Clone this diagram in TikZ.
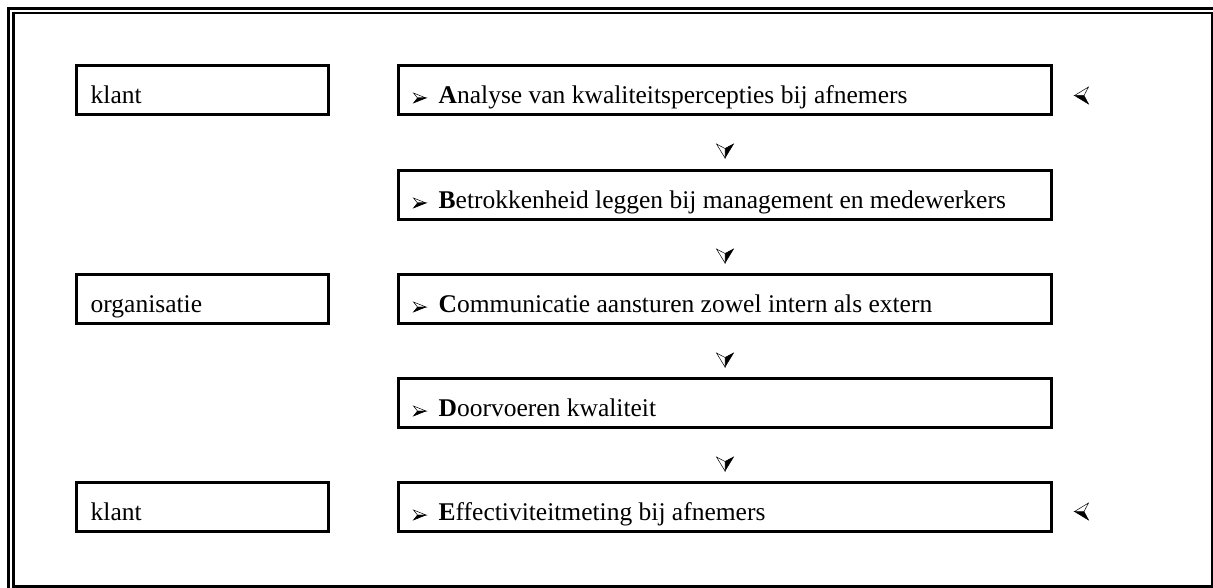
\documentclass[tikz,border=0pt]{standalone}
\usepackage{fontspec}
\setmainfont{Liberation Serif}
\usetikzlibrary{calc}
\tikzset{
  box/.style={draw, line width=3pt, inner sep=0pt, rectangle},
  leftbox/.style={box, minimum width=252pt, minimum height=49pt},
  rightbox/.style={box, minimum width=653pt, minimum height=49pt},
  txt/.style={inner sep=0pt, anchor=base west, font=\fontsize{25.5}{30}\selectfont},
  pics/ahw/.style={code={
    \filldraw[fill=white, line width=0.5pt, line join=miter] (0,0) -- (-1,-1) -- (-0.68,0) -- cycle;
    \filldraw[line width=0.5pt, line join=miter] (0,0) -- (-1,1) -- (-0.68,0) -- cycle;
  }},
  pics/ahb/.style={code={
    \filldraw[line width=0.5pt, line join=miter] (0,0) -- (-1,-1) -- (-0.68,0) -- cycle;
    \filldraw[fill=white, line width=0.5pt, line join=miter] (0,0) -- (-1,1) -- (-0.68,0) -- cycle;
  }}
}
\begin{document}
\begin{tikzpicture}[x=1pt,y=-1pt]
\useasboundingbox (0,0) rectangle (1213,588);
% outer frame
\draw[line width=3pt] (8.5,588) -- (8.5,8.5) -- (1213,8.5);
\draw[line width=2.5pt] (13.5,13) rectangle (1211.8,586.5);

% left boxes
\node[leftbox] (L1) at (202.5,90) {};
\node[leftbox] (L3) at (202.5,299) {};
\node[leftbox] (L5) at (202.5,507) {};
\node[txt] (L1t) at ($(L1.north west)+(15.5,39.5)$) {klant};
\node[txt] (L3t) at ($(L3.north west)+(15.5,39.5)$) {organisatie};
\node[txt] (L5t) at ($(L5.north west)+(15.5,39.5)$) {klant};

% right boxes
\node[rightbox] (A) at (725,90) {};
\node[rightbox] (B) at (725,195) {};
\node[rightbox] (C) at (725,299) {};
\node[rightbox] (D) at (725,403) {};
\node[rightbox] (E) at (725,507) {};

\foreach \n/\t in {A/{\textbf{A}nalyse van kwaliteitspercepties bij afnemers},
                   B/{\textbf{B}etrokkenheid leggen bij management en medewerkers},
                   C/{\textbf{C}ommunicatie aansturen zowel intern als extern},
                   D/{\textbf{D}oorvoeren kwaliteit},
                   E/{\textbf{E}ffectiviteitmeting bij afnemers}}{
  \pic[xscale=12.5, yscale=5] at ($(\n.north west)+(29,34)$) {ahw};
  \node[txt] (\n t) at ($(\n.north west)+(41.5,39.5)$) {\t};
}

% down arrowheads between steps
\foreach \a in {A,B,C,D}{
  \pic[rotate=-90, xscale=14, yscale=8.5] at ($(\a.south)+(0,42)$) {ahb};
}

% side arrowheads
\pic[rotate=180, xscale=14, yscale=8.5] at ($(A.north east)+(21.5,31.5)$) {ahb};
\pic[rotate=180, xscale=14, yscale=8.5] at ($(E.north east)+(21.5,30.5)$) {ahb};
\end{tikzpicture}
\end{document}
